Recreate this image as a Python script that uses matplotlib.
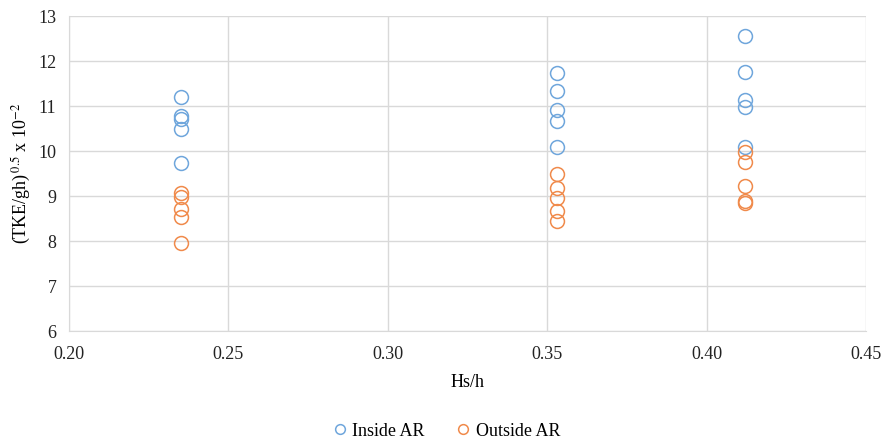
import matplotlib
matplotlib.use("Agg")
import matplotlib.pyplot as plt
from matplotlib.lines import Line2D

plt.rcParams['font.family'] = ['Liberation Serif', 'DejaVu Serif']
plt.rcParams['mathtext.fontset'] = 'stix'

inside_x = [0.235]*5 + [0.353]*5 + [0.412]*5
inside_y = [11.20, 10.78, 10.71, 10.49, 9.73,
            11.73, 11.33, 10.91, 10.67, 10.09,
            12.56, 11.76, 11.14, 10.98, 10.09]
outside_x = [0.235]*5 + [0.353]*5 + [0.412]*5
outside_y = [9.07, 8.98, 8.71, 8.53, 7.96,
             9.49, 9.18, 8.96, 8.66, 8.45,
             9.98, 9.76, 9.22, 8.90, 8.84]

xticks = [0.20, 0.25, 0.30, 0.35, 0.40, 0.45]
yticks = [6, 7, 8, 9, 10, 11, 12, 13]

blue = '#6FA6DC'
orange = '#F08A4B'

fig = plt.figure(figsize=(8.89, 4.44), dpi=100)
ax = fig.add_axes([69/889, 1-331/444, (866-69)/889, (331-16)/444])

ax.plot(inside_x, inside_y, 'o', mfc='none', mec=blue, ms=10, mew=1.1, label='Inside AR', zorder=3)
ax.plot(outside_x, outside_y, 'o', mfc='none', mec=orange, ms=10, mew=1.1, label='Outside AR', zorder=3)

ax.set_xlim(0.20, 0.45)
ax.set_ylim(6, 13)
ax.set_xticks(xticks)
ax.set_xticklabels([f"{t:.2f}" for t in xticks])
ax.set_yticks(yticks)
ax.grid(True, color='#d9d9d9', lw=1)
ax.set_axisbelow(True)
for s in ['top', 'right']:
    ax.spines[s].set_visible(False)
for s in ['left', 'bottom']:
    ax.spines[s].set_color('#d9d9d9')
ax.tick_params(length=0, labelsize=13, colors='#222222')
ax.tick_params(axis='x', pad=11)
ax.tick_params(axis='y', pad=9)
ax.set_xlabel('Hs/h', fontsize=13, labelpad=8)
ax.set_ylabel(r'(TKE/gh)$^{\,0.5}$ x 10$^{-2}$', fontsize=13, labelpad=4)

handles = [Line2D([], [], ls='none', marker='o', mfc='none', mec=blue, ms=7, mew=1.1),
           Line2D([], [], ls='none', marker='o', mfc='none', mec=orange, ms=7, mew=1.1)]
fig.legend(handles, ['Inside AR', 'Outside AR'], loc='center', bbox_to_anchor=(0.5, 1-431/444),
           ncol=2, frameon=False, fontsize=13, handletextpad=0.1, columnspacing=1.5, handlelength=1.2)

fig.savefig('out.png', dpi=100)
